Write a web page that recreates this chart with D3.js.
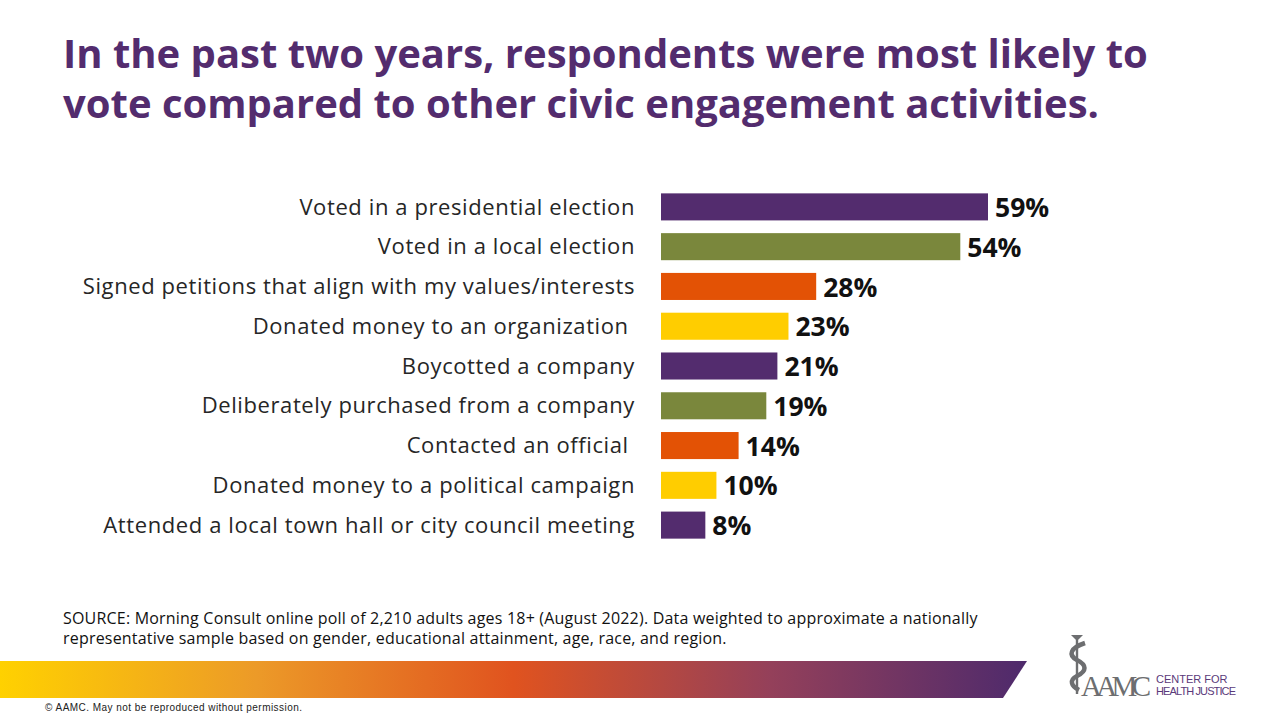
<!DOCTYPE html>
<html>
<head>
<meta charset="utf-8">
<script src="https://cdn.jsdelivr.net/npm/d3@7"></script>
<style>
  html, body { margin: 0; padding: 0; background: #fff; }
  svg { display: block; font-family: "Open Sans", Lato, sans-serif; }
  .lbl { white-space: pre; }
</style>
</head>
<body>
<svg id="chart" width="1280" height="720"></svg>
<script>
// ---- data --------------------------------------------------------------- //
// two labels carry a trailing space on the original slide
const activities = [
  "Voted in a presidential election",
  "Voted in a local election",
  "Signed petitions that align with my values/interests",
  "Donated money to an organization ",
  "Boycotted a company",
  "Deliberately purchased from a company",
  "Contacted an official ",
  "Donated money to a political campaign",
  "Attended a local town hall or city council meeting"
];
const shares = [59, 54, 28, 23, 21, 19, 14, 10, 8];
const barColors = ["#532C6E", "#7A873C", "#E35205", "#FFCD00"];
const titleLines = [
  "In the past two years, respondents were most likely to",
  "vote compared to other civic engagement activities."
];
const sourceLines = [
  "SOURCE: Morning Consult online poll of 2,210 adults ages 18+ (August 2022). Data weighted to approximate a nationally",
  "representative sample based on gender, educational attainment, age, race, and region."
];

const svg = d3.select("#chart");

// ---- title ---------------------------------------------------------------- //
svg.append("g").selectAll("text").data(titleLines).join("text")
  .attr("x", 63).attr("y", (d, i) => 68 + i * 50)
  .attr("fill", "#532C6E").attr("font-size", 40).attr("font-weight", 700)
  .text(d => d);

// ---- bars ----------------------------------------------------------------- //
const x = d3.scaleLinear().domain([0, 59]).range([661, 988]);
const y = d3.scaleBand().domain(activities).range([187, 545]).paddingInner(0.32).paddingOuter(0.16);

const rows = svg.append("g").selectAll("g").data(activities).join("g");
rows.append("rect")
  .attr("x", x(0)).attr("y", d => y(d))
  .attr("width", (d, i) => x(shares[i]) - x(0))
  .attr("height", y.bandwidth())
  .attr("fill", (d, i) => barColors[i % barColors.length]);
rows.append("text")
  .attr("class", "lbl")
  .attr("x", 635).attr("y", d => y(d) + y.bandwidth() / 2)
  .attr("dy", "0.35em").attr("text-anchor", "end")
  .attr("font-size", 22).attr("letter-spacing", 0.6).attr("fill", "#262626")
  .text(d => d);
rows.append("text")
  .attr("x", (d, i) => x(shares[i]) + 7).attr("y", d => y(d) + y.bandwidth() / 2)
  .attr("dy", "0.38em")
  .attr("font-size", 26.5).attr("font-weight", 700).attr("fill", "#111")
  .text((d, i) => shares[i] + "%");

// ---- source note ---------------------------------------------------------- //
svg.append("g").selectAll("text").data(sourceLines).join("text")
  .attr("x", 63).attr("y", (d, i) => 624 + i * 20)
  .attr("font-size", 16).attr("letter-spacing", 0.2).attr("fill", "#111")
  .text(d => d);

// ---- gradient band -------------------------------------------------------- //
const grad = svg.append("defs").append("linearGradient").attr("id", "band")
  .attr("x1", "0%").attr("x2", "100%");
[["0%", "#FFD100"], ["25%", "#EC9A28"], ["50%", "#E0531F"], ["75%", "#94405A"], ["100%", "#4E2A6C"]]
  .forEach(([o, c]) => grad.append("stop").attr("offset", o).attr("stop-color", c));
svg.append("path")
  .attr("d", "M0,661 L1027,661 L1003,698 L0,698 Z")
  .attr("fill", "url(#band)");

svg.append("text").attr("x", 45).attr("y", 711)
  .attr("font-family", "Liberation Sans Narrow, Liberation Sans, Arial, sans-serif")
  .attr("font-size", 10).attr("fill", "#222").attr("textLength", 257)
  .text("\u00A9  AAMC. May not be reproduced without permission.");

// ---- logo ----------------------------------------------------------------- //
const logo = svg.append("g").attr("fill", "#6d6e70");
logo.append("path")
  .attr("d", "M1071,635 L1083,635 L1077,641 Z");
logo.append("rect").attr("x", 1075.8).attr("y", 640).attr("width", 2.4).attr("height", 54);
logo.append("path")
  .attr("d", "M1085,643 C1070,648 1068,655 1077,660 C1087,665 1087,671 1077,676 C1069,680 1071,686 1079,690")
  .attr("fill", "none").attr("stroke", "#6d6e70").attr("stroke-width", 4.5);
logo.append("text").attr("x", 1081).attr("y", 696)
  .attr("font-family", "Liberation Serif, DejaVu Serif, serif")
  .attr("font-size", 29).attr("textLength", 70).text("AAMC");
const cfh = svg.append("g").attr("fill", "#5b3a7a")
  .attr("font-family", "Liberation Sans Narrow, Liberation Sans, sans-serif").attr("font-size", 11);
cfh.append("text").attr("x", 1156).attr("y", 683).text("CENTER FOR");
cfh.append("text").attr("x", 1156).attr("y", 695).attr("textLength", 80).text("HEALTH JUSTICE");
</script>
</body>
</html>
